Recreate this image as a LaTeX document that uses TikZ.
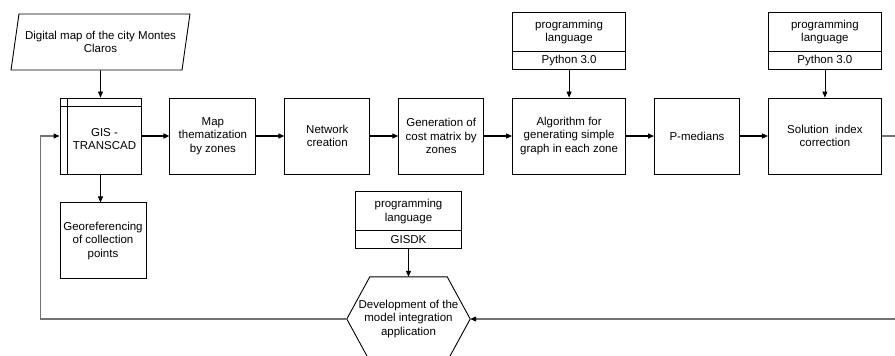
\documentclass[tikz,border=0pt]{standalone}
\usepackage{fontspec}
\setmainfont{Liberation Sans}
\usetikzlibrary{positioning,shapes.geometric,arrows.meta}

\tikzset{
  box/.style={draw,line width=0.9pt,minimum width=85pt,minimum height=76pt,align=center,inner sep=2pt},
  lang/.style={draw,line width=0.9pt,outer sep=0pt,minimum width=113pt,minimum height=39pt,align=center,inner sep=2pt},
  tool/.style={draw,line width=0.9pt,outer sep=0pt,minimum width=113pt,minimum height=18pt,inner sep=1pt},
  flow/.style={line width=1.3pt,-{Triangle[length=6pt,width=5pt]}},
  feed/.style={line width=0.8pt,-{Triangle[length=6pt,width=5pt]}},
  back/.style={draw=black!55,line width=1.1pt,-{Triangle[length=6pt,width=5pt,fill=black,color=black]}}
}

\begin{document}
\begin{tikzpicture}[x=1pt,y=-1pt,font=\fontsize{11.5}{13.5}\selectfont]
  \useasboundingbox (0,0) rectangle (895,356);

  % input map
  \node[draw,line width=0.9pt,trapezium,trapezium left angle=75,trapezium right angle=105,
        trapezium stretches=true,minimum width=179pt,minimum height=56pt,align=center]
        (city) at (100.5,42) {Digital map of the city Montes\\Claros};

  % main row
  \node[box,minimum width=81pt] (gis) at (100.5,136) {};
  \draw[line width=0.9pt] ([xshift=8pt]gis.north west) -- ([xshift=8pt]gis.south west);
  \draw[line width=0.9pt] ([yshift=-9pt]gis.north west) -- ([yshift=-9pt]gis.north east);
  \node[align=center] (gislbl) at ([xshift=4pt,yshift=-3pt]gis.center) {GIS -\\TRANSCAD};
  \node[box,minimum width=86pt,right=28pt of gis] (them) {Map\\thematization\\by zones};
  \node[box,right=28pt of them] (net) {Network\\creation};
  \node[box,right=28pt of net] (cost) {Generation of\\cost matrix by\\zones};
  \node[box,minimum width=113pt,right=28pt of cost] (alg) {Algorithm for\\generating simple\\graph in each zone};
  \node[box,right=28pt of alg] (pmed) {P-medians};
  \node[box,minimum width=113pt,right=28pt of pmed] (sol) {Solution\ \ index\\correction};

  \node[box,minimum width=86pt,below=28pt of gis,xshift=2.5pt] (geo) {Georeferencing\\of collection\\points};

  % languages
  \node[tool,above=28pt of alg] (py1) {Python 3.0};
  \node[lang,above=0pt of py1] (pl1) {programming\\language};
  \node[tool,above=28pt of sol] (py2) {Python 3.0};
  \node[lang,above=0pt of py2] (pl2) {programming\\language};

  % integration
  \node[minimum width=123pt,minimum height=84pt,align=center] (dev) at (408.5,319)
        {Development of the\\model integration\\application};
  \draw[line width=0.9pt] (dev.west) -- ([xshift=23pt]dev.north west) -- ([xshift=-23pt]dev.north east)
        -- (dev.east) -- ([xshift=-23pt]dev.south east) -- ([xshift=23pt]dev.south west) -- cycle;
  \node[tool,minimum width=106pt,above=28pt of dev] (gsk) {GISDK};
  \node[lang,minimum width=106pt,above=0pt of gsk] (pl3) {programming\\language};

  % arrows
  \draw[feed] (city) -- (gis);
  \foreach \a/\b in {gis/them,them/net,net/cost,cost/alg,alg/pmed,pmed/sol}
    \draw[flow] (\a) -- (\b);
  \draw[feed] (gis.south) -- (gis.south |- geo.north);
  \draw[feed] (py1) -- (alg);
  \draw[feed] (py2) -- (sol);
  \draw[feed] (gsk) -- (dev);
  \draw[back] (sol.east) -- ++(19,0) |- (dev.east);
  \draw[back] (dev.west) -- ++(-306,0) |- (gis.west);

\end{tikzpicture}
\end{document}
